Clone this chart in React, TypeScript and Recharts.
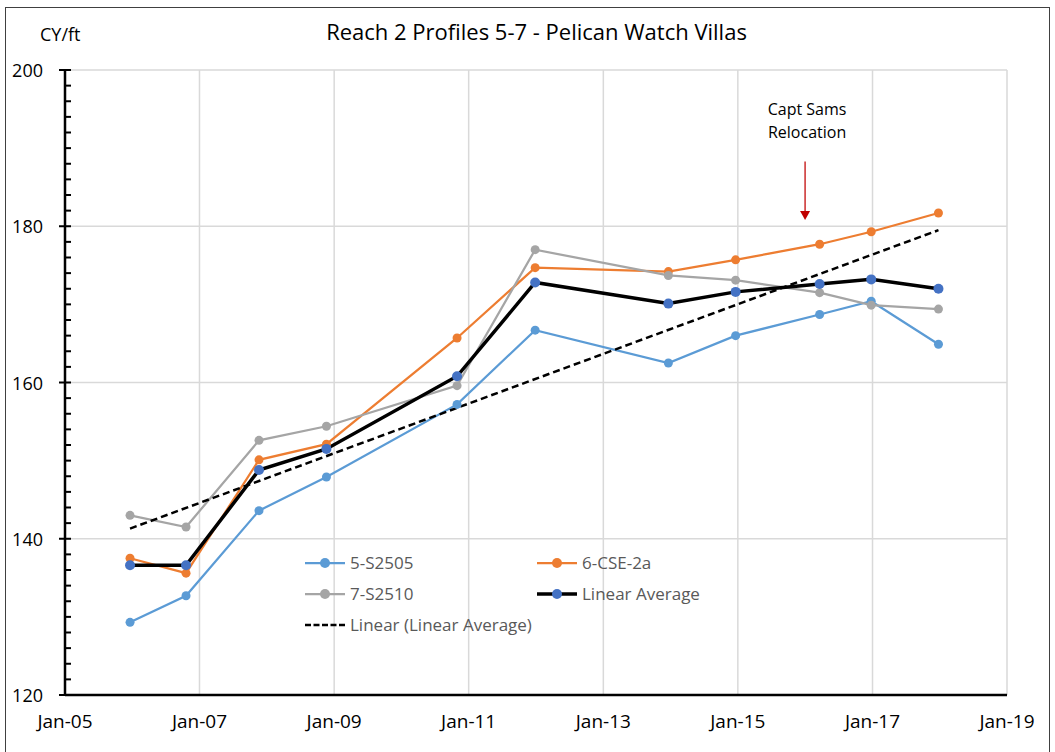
import React from "react";
import {
  LineChart,
  Line,
  XAxis,
  YAxis,
  CartesianGrid,
  Legend,
  ReferenceLine,
} from "recharts";

// survey dates and CY/ft values
const surveyDates = [
  "2005-12-20",
  "2006-10-20",
  "2007-11-20",
  "2008-11-20",
  "2010-10-30",
  "2011-12-28",
  "2013-12-20",
  "2014-12-20",
  "2016-03-20",
  "2016-12-25",
  "2017-12-25",
];
const s2505 = [129.3, 132.7, 143.6, 147.9, 157.2, 166.7, 162.5, 166.0, 168.7, 170.4, 164.9];
const cse2a = [137.5, 135.6, 150.1, 152.1, 165.7, 174.7, 174.2, 175.7, 177.7, 179.3, 181.7];
const s2510 = [143.0, 141.5, 152.6, 154.4, 159.6, 177.0, 173.7, 173.1, 171.5, 169.9, 169.4];
const linearAverage = [136.6, 136.6, 148.8, 151.5, 160.8, 172.8, 170.1, 171.6, 172.6, 173.2, 172.0];

// trendline end points (as drawn)
const trendDates = ["2005-12-20", "2017-12-25"];
const trendValues = [141.3, 179.5];

const xTickYears = [2005, 2007, 2009, 2011, 2013, 2015, 2017, 2019];
const xTickLabels = ["Jan-05", "Jan-07", "Jan-09", "Jan-11", "Jan-13", "Jan-15", "Jan-17", "Jan-19"];
const yMajorTicks = [120, 140, 160, 180, 200];
const yGridValues = [140, 160, 180, 200];

const annotationDate = "2016-01-01";
const annotationTop = 188.3;
const annotationTip = 180.8;

const FONT = "'Open Sans', Lato, sans-serif";

const toTime = (d: string) => new Date(d + "T00:00:00Z").getTime();
const xTicks = xTickYears.map((y) => Date.UTC(y, 0, 1));

const yMinorTicks: number[] = [];
for (let v = 120; v <= 200; v += 2) yMinorTicks.push(v);

const tableData = surveyDates.map((d, i) => ({
  t: toTime(d),
  s5: s2505[i],
  s6: cse2a[i],
  s7: s2510[i],
  avg: linearAverage[i],
}));

const trendData = trendDates.map((d, i) => ({ t: toTime(d), trend: trendValues[i] }));

const SERIES = [
  { key: "s5", name: "5-S2505", color: "#5B9BD5", dot: "#5B9BD5", width: 2.25 },
  { key: "s6", name: "6-CSE-2a", color: "#ED7D31", dot: "#ED7D31", width: 2.25 },
  { key: "s7", name: "7-S2510", color: "#A5A5A5", dot: "#A5A5A5", width: 2.25 },
  { key: "avg", name: "Linear Average", color: "#000000", dot: "#4472C4", width: 3.5 },
];

const YTick = ({ x, y, payload }: any) => {
  const major = yMajorTicks.includes(payload.value);
  return (
    <g>
      <line
        x1={major ? x - 6 : x}
        x2={x + 6}
        y1={y}
        y2={y}
        stroke="#000"
        strokeWidth={2}
      />
      {major && (
        <text
          x={x - 22}
          y={y}
          textAnchor="end"
          dominantBaseline="central"
          fontSize={18}
          fontFamily={FONT}
          fill="#000"
        >
          {payload.value}
        </text>
      )}
    </g>
  );
};

const AnnotationArrow = (props: any) => {
  const { x1, y1, y2 } = props;
  return (
    <g>
      <text
        x={x1 + 2}
        y={y1 - 52}
        textAnchor="middle"
        dominantBaseline="central"
        fontSize={16}
        fontFamily={FONT}
        fill="#000"
      >
        Capt Sams
      </text>
      <text
        x={x1 + 2}
        y={y1 - 29}
        textAnchor="middle"
        dominantBaseline="central"
        fontSize={16}
        fontFamily={FONT}
        fill="#000"
      >
        Relocation
      </text>
      <line x1={x1} x2={x1} y1={y1} y2={y2 - 8} stroke="#C00000" strokeWidth={1.25} />
      <polygon
        points={`${x1 - 5},${y2 - 9} ${x1 + 5},${y2 - 9} ${x1},${y2}`}
        fill="#C00000"
      />
    </g>
  );
};

const LegendContent = () => {
  const items = [
    ...SERIES.map((s) => ({ ...s, dashed: false })),
    { key: "trend", name: "Linear (Linear Average)", color: "#000", dot: "", width: 2.5, dashed: true },
  ];
  return (
    <div
      style={{
        display: "grid",
        gridTemplateColumns: "232px 232px",
        rowGap: 0,
        fontFamily: FONT,
        fontSize: 17,
        color: "#595959",
        textAlign: "left",
      }}
    >
      {items.map((it) => (
        <div key={it.key} style={{ display: "flex", alignItems: "center", height: 31 }}>
          <svg width={45} height={12} style={{ flexShrink: 0 }}>
            <line
              x1={0}
              x2={40}
              y1={6}
              y2={6}
              stroke={it.color}
              strokeWidth={it.dashed ? 2.5 : it.width}
              strokeDasharray={it.dashed ? "6 2.5" : undefined}
            />
            {!it.dashed && <circle cx={20} cy={6} r={5} fill={it.dot} />}
          </svg>
          <span style={{ whiteSpace: "nowrap" }}>{it.name}</span>
        </div>
      ))}
    </div>
  );
};

export default function App() {
  return (
    <div
      style={{
        position: "absolute",
        left: 0,
        top: 0,
        width: 1055,
        height: 752,
        background: "#fff",
        overflow: "hidden",
        fontFamily: FONT,
      }}
    >
      <div
        style={{
          position: "absolute",
          left: 5,
          top: 7,
          width: 1043,
          height: 760,
          border: "1px solid #404040",
        }}
      />
      <div
        style={{
          position: "absolute",
          left: 0,
          width: 1073,
          top: 16,
          textAlign: "center",
          fontSize: 22,
          color: "#000",
        }}
      >
        Reach 2 Profiles 5-7 - Pelican Watch Villas
      </div>
      <div style={{ position: "absolute", left: 40, top: 22, fontSize: 18, color: "#000" }}>
        CY/ft
      </div>
      <div style={{ position: "absolute", left: 0, top: 0 }}>
        <LineChart
          width={1055}
          height={752}
          data={tableData}
          margin={{ top: 70, right: 48, left: 0, bottom: 0 }}
        >
          <CartesianGrid
            stroke="#d9d9d9"
            strokeWidth={1.5}
            horizontalValues={yGridValues}
            verticalValues={xTicks}
          />
          <XAxis
            dataKey="t"
            type="number"
            scale="time"
            domain={[xTicks[0], xTicks[xTicks.length - 1]]}
            ticks={xTicks}
            interval={0}
            tickFormatter={(v: number) => xTickLabels[xTicks.indexOf(v)] ?? ""}
            axisLine={{ stroke: "#000", strokeWidth: 2.5 }}
            tickLine={false}
            tickSize={0}
            tickMargin={20}
            height={57}
            tick={{ fontSize: 19, fill: "#000", fontFamily: FONT }}
          />
          <YAxis
            type="number"
            domain={[120, 200]}
            ticks={yMinorTicks}
            interval={0}
            width={65}
            axisLine={{ stroke: "#000", strokeWidth: 2.5 }}
            tickLine={false}
            tickSize={0}
            tickMargin={0}
            tick={<YTick />}
          />
          {SERIES.map((s) => (
            <Line
              key={s.key}
              type="linear"
              dataKey={s.key}
              name={s.name}
              stroke={s.color}
              strokeWidth={s.width}
              dot={{ r: s.key === "avg" ? 5 : 4.5, fill: s.dot, stroke: s.dot, strokeWidth: 0 }}
              activeDot={false}
              isAnimationActive={false}
            />
          ))}
          <Line
            data={trendData}
            type="linear"
            dataKey="trend"
            name="Linear (Linear Average)"
            stroke="#000"
            strokeWidth={2.5}
            strokeDasharray="7 4"
            dot={false}
            activeDot={false}
            isAnimationActive={false}
          />
          <ReferenceLine
            segment={[
              { x: toTime(annotationDate), y: annotationTop },
              { x: toTime(annotationDate), y: annotationTip },
            ]}
            shape={<AnnotationArrow />}
          />
          <Legend
            layout="horizontal"
            verticalAlign="middle"
            align="center"
            content={<LegendContent />}
            wrapperStyle={{ position: "absolute", left: 305, top: 547, width: 480 }}
          />
        </LineChart>
      </div>
    </div>
  );
}
